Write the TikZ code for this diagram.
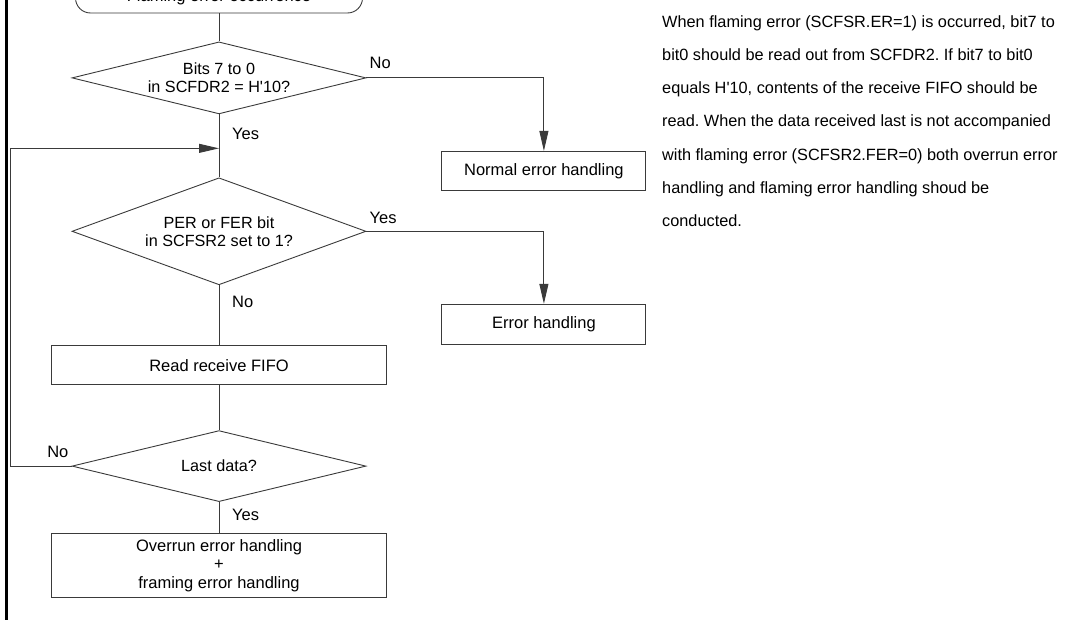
\documentclass[tikz,border=0pt]{standalone}
\usepackage{fontspec}
\setmainfont{Liberation Sans}
\usetikzlibrary{positioning,arrows.meta,shapes.geometric}
\definecolor{edge}{HTML}{3A3A3A}
\frenchspacing

\begin{document}
\begin{tikzpicture}[
  x=1pt, y=1pt,
  node distance=28pt,
  box/.style={draw=edge, line width=0.9pt, minimum width=335pt, minimum height=39pt, align=center, font=\fontsize{16.5}{18.5}\selectfont, inner sep=0pt},
  side/.style={box, minimum width=204pt, anchor=north west},
  dec/.style={draw=edge, line width=0.9pt, diamond, minimum width=294pt, inner sep=0pt, align=center, font=\fontsize{16.2}{18}\selectfont},
  lbl/.style={font=\fontsize{16.5}{18}\selectfont, inner sep=0pt},
  flow/.style={draw=edge, line width=0.9pt},
  arr/.style={flow, -{Triangle[length=20pt,width=9pt]}}]
\useasboundingbox (0,0) rectangle (1066,-620);
\clip (0,0) rectangle (1066,-620);
\draw[line width=3pt] (6,0) -- (6,-620);
\node[box, rounded corners=15pt, minimum width=287pt, minimum height=32pt] (start) at (219,3) {Flaming error occurrence};
\node[dec, aspect=4.1, minimum height=72pt, below=of start] (chk) {Bits 7 to 0\\in SCFDR2 = H\textquotesingle 10?};
\node[dec, aspect=2.75, minimum height=107pt, below=63pt of chk] (chk2) {PER or FER bit\\in SCFSR2 set to 1?};
\node[box, below=60pt of chk2] (read) {Read receive FIFO};
\node[dec, aspect=4.1, minimum height=71pt, below=45pt of read] (last) {Last data?};
\node[box, minimum height=64pt, below=31pt of last] (final) {Overrun error handling\\+\\framing error handling};
\node[side, below right=73pt and 75pt of chk.east] (normal) {Normal error handling};
\node[side, minimum height=40pt, below right=72.5pt and 75pt of chk2.east] (err) {Error handling};
\coordinate[below=34pt of chk.south] (merge);
\coordinate[left=61pt of last.west] (ret);
\foreach \a/\b in {start/chk,chk/chk2,chk2/read,read/last,last/final} \draw[flow] (\a) -- (\b);
\draw[arr] (chk.east) -| (normal.north);
\draw[arr] (chk2.east) -| (err.north);
\draw[arr] (last.west) -- (ret) |- (merge);
% branch labels
\node[lbl, above right=9.5pt and 3pt of chk.east, anchor=base west] (no1) {No};
\node[lbl, below right=25.5pt and 13pt of chk.south, anchor=base west] (yes1) {Yes};
\node[lbl, above right=7.8pt and 3pt of chk2.east, anchor=base west] (yes2) {Yes};
\node[lbl, below right=22pt and 13pt of chk2.south, anchor=base west] (no2) {No};
\node[lbl, above left=9pt and 3pt of last.west, anchor=base east] (no3) {No};
\node[lbl, below right=18.5pt and 13pt of last.south, anchor=base west] (yes3) {Yes};
\node[lbl, anchor=north west, align=left, font=\fontsize{16.3}{33.3}\selectfont] (note) at (662,-15) {When flaming error (SCFSR.ER=1) is occurred, bit7 to\\bit0 should be read out from SCFDR2. If bit7 to bit0\\equals H\textquotesingle 10, contents of the receive FIFO should be\\read. When the data received last is not accompanied\\with flaming error (SCFSR2.FER=0) both overrun error\\handling and flaming error handling shoud be\\conducted.};
\end{tikzpicture}
\end{document}
